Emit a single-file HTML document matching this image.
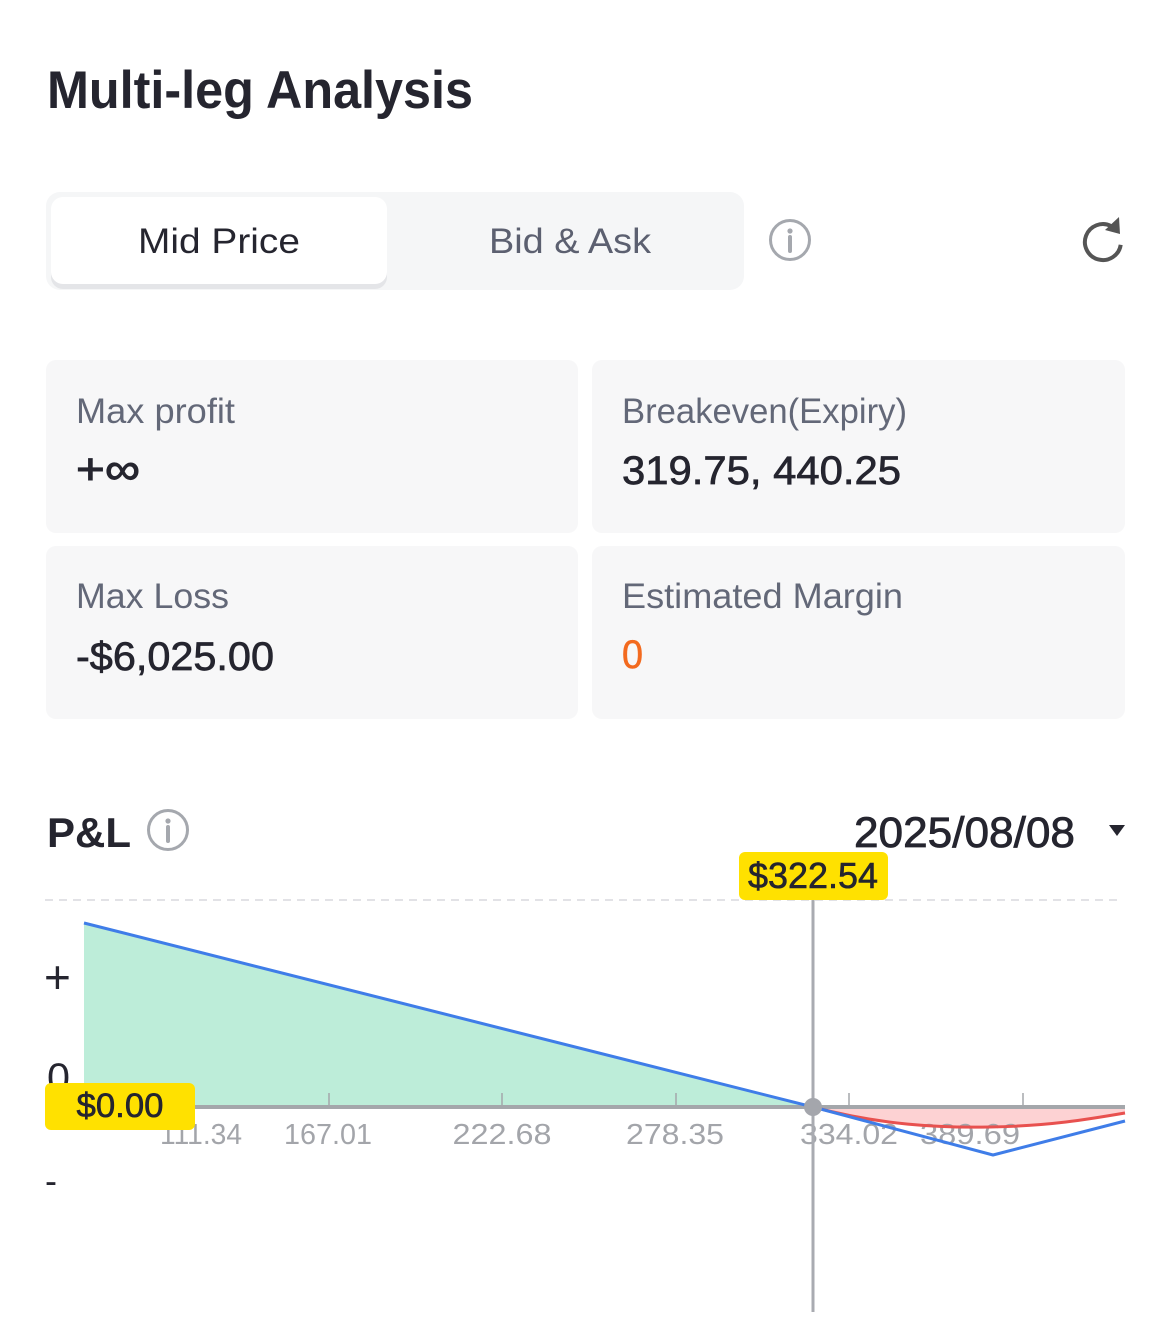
<!DOCTYPE html>
<html>
<head>
<meta charset="utf-8">
<style>
  html, body { margin:0; padding:0; background:#ffffff; }
  body { width:1170px; height:1335px; overflow:hidden; }
  svg { display:block; }
  text { font-family: "Liberation Sans", "DejaVu Sans", sans-serif; }
</style>
</head>
<body>
<svg width="1170" height="1335" viewBox="0 0 1170 1335" xmlns="http://www.w3.org/2000/svg">
  <rect x="0" y="0" width="1170" height="1335" fill="#ffffff"/>

  <!-- Title -->
  <text x="47" y="108" font-size="53" font-weight="bold" fill="#25252f" textLength="426" lengthAdjust="spacingAndGlyphs">Multi-leg Analysis</text>

  <!-- Toggle -->
  <rect x="46" y="192" width="698" height="98" rx="14" fill="#f5f6f7"/>
  <rect x="51" y="201" width="336" height="88" rx="12" fill="#e4e5e8"/>
  <rect x="51" y="197" width="336" height="87" rx="12" fill="#ffffff"/>
  <text x="219" y="253" font-size="35" fill="#25252f" text-anchor="middle" textLength="162" lengthAdjust="spacingAndGlyphs">Mid Price</text>
  <text x="570" y="253" font-size="35" fill="#5c6070" text-anchor="middle" textLength="162" lengthAdjust="spacingAndGlyphs">Bid &amp; Ask</text>

  <!-- info icon -->
  <circle cx="790" cy="240" r="19.5" fill="none" stroke="#a5a8ae" stroke-width="3"/>
  <circle cx="790" cy="231" r="2.6" fill="#a5a8ae"/>
  <line x1="790" y1="237" x2="790" y2="251" stroke="#a5a8ae" stroke-width="4" stroke-linecap="round"/>

  <!-- refresh icon -->
  <path d="M 1120.7 244.8 A 18 18 0 1 1 1111 226" fill="none" stroke="#555555" stroke-width="4"/>
  <polygon points="1105,230 1119,217 1120,234" fill="#555555"/>

  <!-- Cards -->
  <rect x="46" y="360" width="532" height="173" rx="10" fill="#f7f7f8"/>
  <rect x="592" y="360" width="533" height="173" rx="10" fill="#f7f7f8"/>
  <rect x="46" y="546" width="532" height="173" rx="10" fill="#f7f7f8"/>
  <rect x="592" y="546" width="533" height="173" rx="10" fill="#f7f7f8"/>

  <text x="76" y="423" font-size="35" fill="#636878" textLength="159" lengthAdjust="spacingAndGlyphs">Max profit</text>
  <text x="76" y="484" font-size="44" fill="#25252f" stroke="#25252f" stroke-width="1" textLength="64" lengthAdjust="spacingAndGlyphs">+∞</text>

  <text x="622" y="423" font-size="35" fill="#636878" textLength="285" lengthAdjust="spacingAndGlyphs">Breakeven(Expiry)</text>
  <text x="622" y="484" font-size="40" fill="#25252f" stroke="#25252f" stroke-width="0.7" textLength="279" lengthAdjust="spacingAndGlyphs">319.75, 440.25</text>

  <text x="76" y="608" font-size="35" fill="#636878" textLength="153" lengthAdjust="spacingAndGlyphs">Max Loss</text>
  <text x="76" y="670" font-size="40" fill="#25252f" stroke="#25252f" stroke-width="0.7" textLength="198" lengthAdjust="spacingAndGlyphs">-$6,025.00</text>

  <text x="622" y="608" font-size="35" fill="#636878" textLength="281" lengthAdjust="spacingAndGlyphs">Estimated Margin</text>
  <text x="622" y="668" font-size="40" fill="#f36a1f" stroke="#f36a1f" stroke-width="0.6" textLength="21" lengthAdjust="spacingAndGlyphs">0</text>

  <!-- P&L header -->
  <text x="47" y="847" font-size="42" font-weight="bold" fill="#25252f" textLength="84" lengthAdjust="spacingAndGlyphs">P&amp;L</text>
  <circle cx="168" cy="830" r="19.5" fill="none" stroke="#a5a8ae" stroke-width="3"/>
  <circle cx="168" cy="821" r="2.6" fill="#a5a8ae"/>
  <line x1="168" y1="827" x2="168" y2="841" stroke="#a5a8ae" stroke-width="4" stroke-linecap="round"/>

  <text x="854" y="847" font-size="43" fill="#25252f" stroke="#25252f" stroke-width="0.8" textLength="221" lengthAdjust="spacingAndGlyphs">2025/08/08</text>
  <polygon points="1109,825 1125,825 1117,836" fill="#25252f"/>

  <!-- Chart -->
  <line x1="45" y1="900" x2="1120" y2="900" stroke="#d9d9dd" stroke-width="1.5" stroke-dasharray="8 6"/>

  <!-- green fill -->
  <polygon points="84,923 813,1107 84,1107" fill="#bdedd9"/>
  <!-- red fill -->
  <path d="M813,1107 C 880,1125 940,1128 990,1127 C 1050,1126 1090,1119 1125,1113 L 1125,1107 Z" fill="#fdd2d3"/>

  <!-- y labels -->
  <text x="44" y="993" font-size="46" fill="#25252f">+</text>
  <text x="47" y="1091" font-size="40" fill="#25252f" textLength="23" lengthAdjust="spacingAndGlyphs">0</text>
  <text x="45" y="1193" font-size="36" fill="#25252f">-</text>

  <!-- axis -->
  <line x1="84" y1="1107" x2="1125" y2="1107" stroke="#a4a7ab" stroke-width="4"/>
  <g stroke="#a4a7ab" stroke-width="1.5">
    <line x1="155" y1="1093" x2="155" y2="1107"/>
    <line x1="329" y1="1093" x2="329" y2="1107"/>
    <line x1="502" y1="1093" x2="502" y2="1107"/>
    <line x1="676" y1="1093" x2="676" y2="1107"/>
    <line x1="849" y1="1093" x2="849" y2="1107"/>
    <line x1="1023" y1="1093" x2="1023" y2="1107"/>
  </g>

  <!-- tick labels -->
  <g font-size="29" fill="#a3a5aa" text-anchor="middle">
    <text x="201" y="1144" textLength="82" lengthAdjust="spacingAndGlyphs">111.34</text>
    <text x="328" y="1144" textLength="88" lengthAdjust="spacingAndGlyphs">167.01</text>
    <text x="502" y="1144" textLength="99" lengthAdjust="spacingAndGlyphs">222.68</text>
    <text x="675" y="1144" textLength="98" lengthAdjust="spacingAndGlyphs">278.35</text>
    <text x="849" y="1144" textLength="98" lengthAdjust="spacingAndGlyphs">334.02</text>
    <text x="970" y="1144" textLength="100" lengthAdjust="spacingAndGlyphs">389.69</text>
  </g>

  <!-- vertical current price line -->
  <line x1="813" y1="900" x2="813" y2="1312" stroke="#a9abb1" stroke-width="3"/>

  <!-- series -->
  <path d="M813,1107 C 880,1125 940,1128 990,1127 C 1050,1126 1090,1119 1125,1113" fill="none" stroke="#e8514f" stroke-width="3"/>
  <polyline points="84,923 813,1107 993,1155 1125,1121" fill="none" stroke="#3f7de8" stroke-width="3" stroke-linejoin="round"/>

  <circle cx="813" cy="1107" r="9" fill="#a4a6ac"/>

  <!-- price label -->
  <rect x="739" y="852" width="149" height="48" rx="6" fill="#ffe100"/>
  <text x="813" y="888" font-size="36" fill="#25252f" stroke="#25252f" stroke-width="0.6" text-anchor="middle" textLength="130" lengthAdjust="spacingAndGlyphs">$322.54</text>

  <!-- zero label -->
  <rect x="45" y="1083" width="150" height="47" rx="6" fill="#ffe100"/>
  <text x="120" y="1117" font-size="34" fill="#25252f" stroke="#25252f" stroke-width="0.6" text-anchor="middle" textLength="87" lengthAdjust="spacingAndGlyphs">$0.00</text>
</svg>
</body>
</html>
